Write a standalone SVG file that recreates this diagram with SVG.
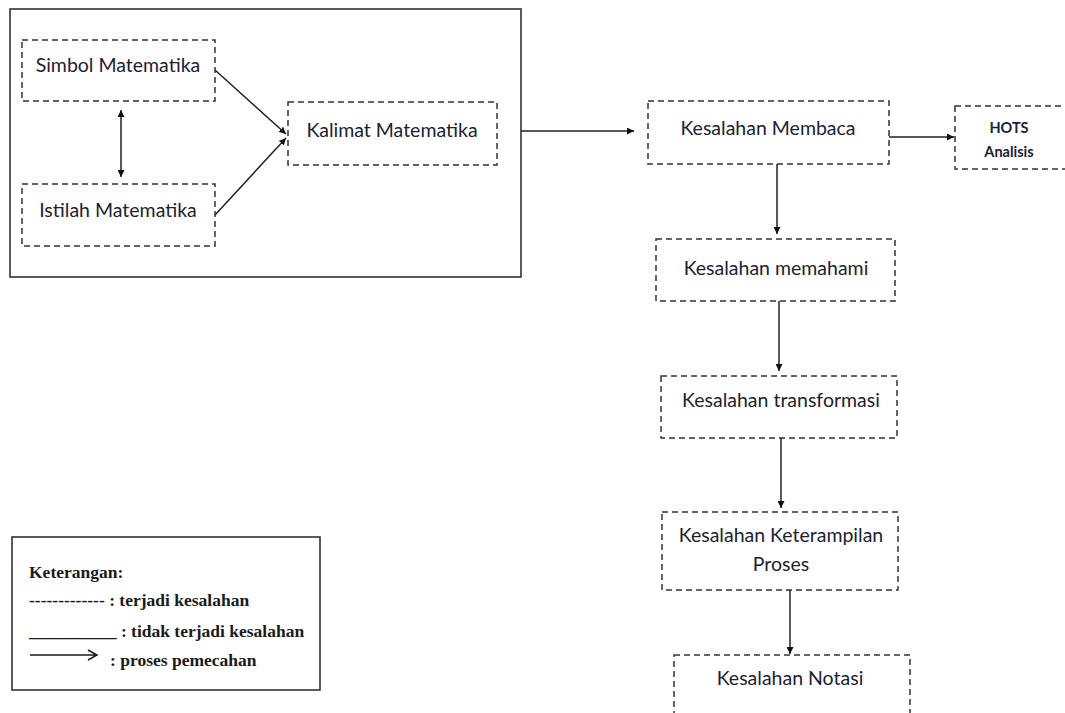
<svg xmlns="http://www.w3.org/2000/svg" width="1065" height="713" viewBox="0 0 1065 713">
<style>
.dash{fill:none;stroke:#333;stroke-width:1.5;stroke-dasharray:6 4}
.solid{fill:none;stroke:#333;stroke-width:1.6}
.lbl{font-family:"Lato","Open Sans",sans-serif;font-size:19.5px;fill:#1c2233;text-anchor:middle}
.hots{font-family:"Lato","Open Sans",sans-serif;font-size:14.5px;font-weight:bold;fill:#1c2233;text-anchor:middle}
.leg{font-family:"Liberation Serif",serif;font-size:17.5px;font-weight:bold;fill:#1a1a1a}
.con{fill:none;stroke:#222;stroke-width:1.5}
</style>
<defs>
<marker id="ah" viewBox="0 0 10 10" refX="10" refY="5" markerWidth="7" markerHeight="7" orient="auto-start-reverse" markerUnits="userSpaceOnUse">
<path d="M0,0 L10,5 L0,10 z" fill="#111"/>
</marker>
</defs>
<rect width="1065" height="713" fill="#fff"/>
<g id="outer"><rect class="solid" x="10" y="9" width="511" height="268"/></g>
<g id="simbol"><rect class="dash" x="22" y="40" width="193" height="61"/><text class="lbl" x="118" y="72">Simbol Matematika</text></g>
<g id="istilah"><rect class="dash" x="22" y="184" width="193" height="62"/><text class="lbl" x="118" y="217">Istilah Matematika</text></g>
<g id="kalimat"><rect class="dash" x="288" y="102" width="209" height="63"/><text class="lbl" x="392" y="137">Kalimat Matematika</text></g>
<g id="membaca"><rect class="dash" x="648" y="101" width="241" height="63"/><text class="lbl" x="768" y="135">Kesalahan Membaca</text></g>
<g id="hots"><rect class="dash" x="955" y="106" width="115" height="63"/><text class="hots" x="1009" y="133">HOTS</text><text class="hots" x="1009" y="157">Analisis</text></g>
<g id="memahami"><rect class="dash" x="656" y="239" width="239" height="62"/><text class="lbl" x="776" y="275">Kesalahan memahami</text></g>
<g id="transformasi"><rect class="dash" x="661" y="376" width="236" height="62"/><text class="lbl" x="781" y="407">Kesalahan transformasi</text></g>
<g id="keterampilan"><rect class="dash" x="662" y="512" width="236" height="78"/><text class="lbl" x="781" y="542">Kesalahan Keterampilan</text><text class="lbl" x="781" y="571">Proses</text></g>
<g id="notasi"><rect class="dash" x="674" y="655" width="236" height="70"/><text class="lbl" x="790" y="685">Kesalahan Notasi</text></g>
<g id="connectors">
<line class="con" x1="121" y1="110" x2="121" y2="177" marker-start="url(#ah)" marker-end="url(#ah)"/>
<line class="con" x1="215" y1="70" x2="286" y2="134" marker-end="url(#ah)"/>
<line class="con" x1="215" y1="215" x2="286" y2="138" marker-end="url(#ah)"/>
<line class="con" x1="521" y1="131" x2="634" y2="131" marker-end="url(#ah)"/>
<line class="con" x1="889" y1="137" x2="954" y2="137" marker-end="url(#ah)"/>
<line class="con" x1="777" y1="164" x2="777" y2="234" marker-end="url(#ah)"/>
<line class="con" x1="779" y1="301" x2="779" y2="371" marker-end="url(#ah)"/>
<line class="con" x1="781" y1="438" x2="781" y2="508" marker-end="url(#ah)"/>
<line class="con" x1="790" y1="590" x2="790" y2="654" marker-end="url(#ah)"/>
</g>
<g id="legend">
<rect class="solid" x="12" y="537" width="308" height="153"/>
<text class="leg" x="29" y="578">Keterangan:</text>
<text class="leg" x="29" y="606">------------- : terjadi kesalahan</text>
<text class="leg" x="29" y="637">__________ : tidak terjadi kesalahan</text>
<path d="M30,655 H97 M88,650 L97,655 L88,660" fill="none" stroke="#1a1a1a" stroke-width="1.5"/>
<text class="leg" x="110" y="666">: proses pemecahan</text>
</g>
</svg>
